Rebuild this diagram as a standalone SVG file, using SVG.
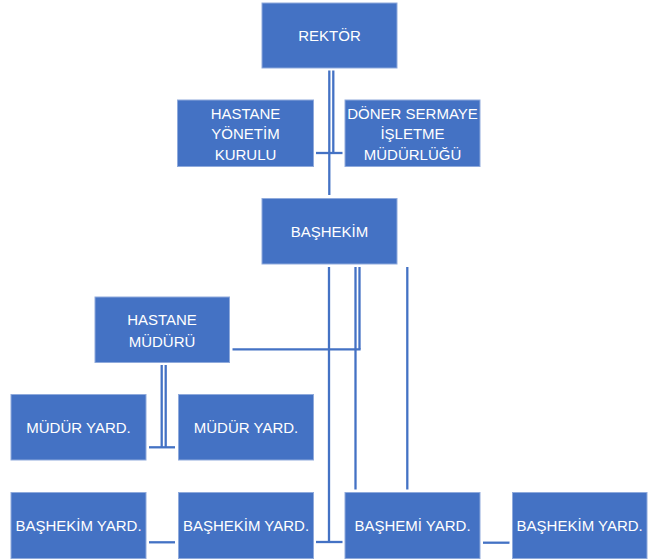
<svg xmlns="http://www.w3.org/2000/svg" width="650" height="560" viewBox="0 0 650 560">
<style>
.box{fill:#4472C4;stroke:#8FAADC;stroke-width:1}
.t{font-family:"Liberation Sans",Arial,sans-serif;font-size:15px;fill:#FFFFFF;text-anchor:middle}
.c{stroke:#4472C4;stroke-width:2.3;fill:none}
</style>
<rect width="650" height="560" fill="#FFFFFF"/>
<g id="connectors">
<line class="c" x1="329.3" y1="70.5" x2="329.3" y2="195"/>
<line class="c" x1="333.3" y1="70.5" x2="333.3" y2="153"/>
<line class="c" x1="316" y1="153" x2="342.5" y2="153"/>
<line class="c" x1="329" y1="267" x2="329" y2="542"/>
<line class="c" x1="316" y1="542" x2="342.5" y2="542"/>
<line class="c" x1="355.5" y1="267" x2="355.5" y2="489.5"/>
<line class="c" x1="359.5" y1="267" x2="359.5" y2="349.3"/>
<line class="c" x1="232.5" y1="349.3" x2="360.6" y2="349.3"/>
<line class="c" x1="407.3" y1="267" x2="407.3" y2="489.5"/>
<line class="c" x1="161.7" y1="365" x2="161.7" y2="447.3"/>
<line class="c" x1="165.7" y1="365" x2="165.7" y2="447.3"/>
<line class="c" x1="149" y1="447.3" x2="175" y2="447.3"/>
<line class="c" x1="149" y1="542.3" x2="175" y2="542.3"/>
<line class="c" x1="483" y1="542.7" x2="509.5" y2="542.7"/>
</g>
<g id="rektor">
<rect class="box" x="262" y="3" width="135" height="65"/>
<text class="t" x="329.5" y="41">REKTÖR</text>
</g>
<g id="hastane-yonetim-kurulu">
<rect class="box" x="177.5" y="100" width="136" height="66.5"/>
<text class="t" x="245.5" y="118.5">HASTANE</text>
<text class="t" x="245.5" y="139.3">YÖNETİM</text>
<text class="t" x="245.5" y="160">KURULU</text>
</g>
<g id="doner-sermaye">
<rect class="box" x="345" y="100" width="135" height="66.5"/>
<text class="t" x="412.5" y="118.5">DÖNER SERMAYE</text>
<text class="t" x="412.5" y="139.3">İŞLETME</text>
<text class="t" x="412.5" y="160">MÜDÜRLÜĞÜ</text>
</g>
<g id="bashekim">
<rect class="box" x="262" y="198.5" width="135" height="65.5"/>
<text class="t" x="329.5" y="236.7">BAŞHEKİM</text>
</g>
<g id="hastane-muduru">
<rect class="box" x="95" y="297" width="134.5" height="65.5"/>
<text class="t" x="162" y="325">HASTANE</text>
<text class="t" x="162" y="346.5">MÜDÜRÜ</text>
</g>
<g id="mudur-yard-1">
<rect class="box" x="11" y="394.5" width="135" height="65.5"/>
<text class="t" x="78.5" y="433">MÜDÜR YARD.</text>
</g>
<g id="mudur-yard-2">
<rect class="box" x="178.5" y="394.5" width="135" height="65.5"/>
<text class="t" x="246" y="433">MÜDÜR YARD.</text>
</g>
<g id="bashekim-yard-1">
<rect class="box" x="11" y="492.5" width="135" height="66"/>
<text class="t" x="78.5" y="531">BAŞHEKİM YARD.</text>
</g>
<g id="bashekim-yard-2">
<rect class="box" x="178.5" y="492.5" width="135" height="66"/>
<text class="t" x="246" y="531">BAŞHEKİM YARD.</text>
</g>
<g id="bashemi-yard">
<rect class="box" x="345" y="492.5" width="135" height="66"/>
<text class="t" x="412.5" y="531">BAŞHEMİ YARD.</text>
</g>
<g id="bashekim-yard-3">
<rect class="box" x="512.5" y="492.5" width="134.5" height="66"/>
<text class="t" x="579.7" y="531">BAŞHEKİM YARD.</text>
</g>
</svg>
